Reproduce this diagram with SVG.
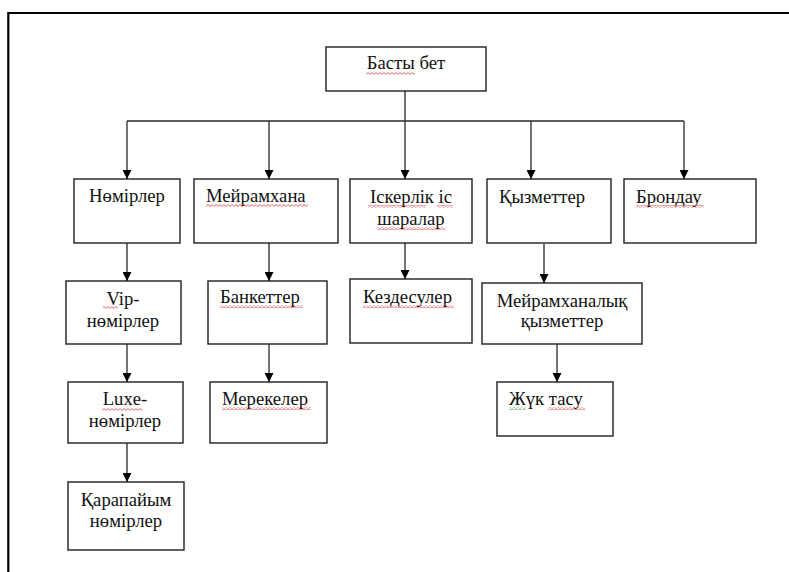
<svg xmlns="http://www.w3.org/2000/svg" width="789" height="572" viewBox="0 0 789 572">
  <defs>
    <style>
      .box { fill: #ffffff; stroke: #1e1e1e; stroke-width: 1.4; }
      .lbl { font-family: "Liberation Serif", "Times New Roman", "DejaVu Serif", serif; font-size: 18.67px; fill: #111111; }
      .mid { text-anchor: middle; }
      .wire { fill: none; stroke: #2a2a2a; stroke-width: 1.3; }
      .frame { fill: none; stroke: #000000; stroke-width: 2.2; }
    </style>
    <marker id="arrow" viewBox="0 0 9 9" refX="9" refY="4.5" markerWidth="9" markerHeight="9" markerUnits="userSpaceOnUse" orient="auto">
      <path d="M0,0 L9,4.5 L0,9 Z" fill="#000000"/>
    </marker>
    <!-- wavy proofing underlines -->
    <pattern id="waveRed" width="4" height="3" patternUnits="userSpaceOnUse">
      <polyline points="0,0.6 2,2.4 4,0.6" fill="none" stroke="#e8363a" stroke-width="0.8"/>
    </pattern>
    <pattern id="waveGreen" width="4" height="3" patternUnits="userSpaceOnUse">
      <polyline points="0,0.6 2,2.4 4,0.6" fill="none" stroke="#3a9a3a" stroke-width="0.8"/>
    </pattern>
  </defs>

  <rect width="789" height="572" fill="#ffffff"/>

  <!-- page frame -->
  <path class="frame" d="M8.3,572 V13 H789"/>

  <!-- connectors -->
  <g id="connectors">
    <path class="wire" d="M405,91 V121"/>
    <path class="wire" d="M127,121 H684"/>
    <path class="wire" d="M127,121 V179" marker-end="url(#arrow)"/>
    <path class="wire" d="M269,121 V179" marker-end="url(#arrow)"/>
    <path class="wire" d="M405,121 V179" marker-end="url(#arrow)"/>
    <path class="wire" d="M531,121 V179" marker-end="url(#arrow)"/>
    <path class="wire" d="M684,121 V179" marker-end="url(#arrow)"/>
    <path class="wire" d="M127,243 V281" marker-end="url(#arrow)"/>
    <path class="wire" d="M127,344 V382" marker-end="url(#arrow)"/>
    <path class="wire" d="M127,443 V482" marker-end="url(#arrow)"/>
    <path class="wire" d="M269,243 V281" marker-end="url(#arrow)"/>
    <path class="wire" d="M269,344 V382" marker-end="url(#arrow)"/>
    <path class="wire" d="M405,243 V279" marker-end="url(#arrow)"/>
    <path class="wire" d="M544,244 V283" marker-end="url(#arrow)"/>
    <path class="wire" d="M557,344 V382" marker-end="url(#arrow)"/>
  </g>

  <g id="home">
    <rect class="box" x="326" y="47" width="160" height="44"/>
    <text class="lbl mid" x="406" y="69">Басты бет</text>
    <rect x="366" y="72" width="49" height="3" fill="url(#waveRed)"/>
  </g>

  <g id="rooms">
    <rect class="box" x="74" y="179" width="106" height="64"/>
    <text class="lbl mid" x="127" y="202">Нөмірлер</text>
  </g>

  <g id="restaurant">
    <rect class="box" x="194" y="179" width="144" height="64"/>
    <text class="lbl" x="206" y="202">Мейрамхана</text>
    <rect x="206" y="204" width="102" height="3" fill="url(#waveRed)"/>
  </g>

  <g id="business-events">
    <rect class="box" x="350" y="179" width="122" height="64"/>
    <text class="lbl mid" x="411" y="203">Іскерлік іс</text>
    <text class="lbl mid" x="411" y="225">шаралар</text>
    <rect x="368" y="205" width="58" height="3" fill="url(#waveRed)"/>
    <rect x="437" y="205" width="16" height="3" fill="url(#waveRed)"/>
    <rect x="377" y="227" width="68" height="3" fill="url(#waveRed)"/>
  </g>

  <g id="services">
    <rect class="box" x="487" y="179" width="124" height="64"/>
    <text class="lbl" x="499" y="203">Қызметтер</text>
  </g>

  <g id="booking">
    <rect class="box" x="624" y="179" width="132" height="64"/>
    <text class="lbl" x="636" y="203">Брондау</text>
    <rect x="636" y="205" width="68" height="3" fill="url(#waveRed)"/>
  </g>

  <g id="vip-rooms">
    <rect class="box" x="66" y="281" width="115" height="63"/>
    <text class="lbl mid" x="123" y="305">Vip-</text>
    <text class="lbl mid" x="123" y="327">нөмірлер</text>
    <rect x="103" y="306" width="15" height="3" fill="url(#waveRed)"/>
  </g>

  <g id="luxe-rooms">
    <rect class="box" x="68" y="382" width="115" height="61"/>
    <text class="lbl mid" x="125" y="405">Luxe-</text>
    <text class="lbl mid" x="125" y="427">нөмірлер</text>
    <rect x="102" y="408" width="40" height="3" fill="url(#waveRed)"/>
  </g>

  <g id="standard-rooms">
    <rect class="box" x="68" y="482" width="116" height="68"/>
    <text class="lbl mid" x="126" y="506">Қарапайым</text>
    <text class="lbl mid" x="126" y="527">нөмірлер</text>
  </g>

  <g id="banquets">
    <rect class="box" x="208" y="281" width="119" height="63"/>
    <text class="lbl" x="220" y="303">Банкеттер</text>
    <rect x="220" y="305" width="83" height="3" fill="url(#waveRed)"/>
  </g>

  <g id="celebrations">
    <rect class="box" x="210" y="382" width="117" height="61"/>
    <text class="lbl" x="222" y="405">Мерекелер</text>
    <rect x="222" y="407" width="89" height="3" fill="url(#waveRed)"/>
  </g>

  <g id="meetings">
    <rect class="box" x="350" y="279" width="122" height="64"/>
    <text class="lbl" x="363" y="303">Кездесулер</text>
    <rect x="363" y="305" width="91" height="3" fill="url(#waveRed)"/>
  </g>

  <g id="restaurant-services">
    <rect class="box" x="482" y="283" width="160" height="61"/>
    <text class="lbl mid" x="562" y="307">Мейрамханалық</text>
    <text class="lbl mid" x="562" y="327">қызметтер</text>
  </g>

  <g id="cargo">
    <rect class="box" x="497" y="382" width="116" height="54"/>
    <text class="lbl" x="509" y="405">Жүк тасу</text>
    <rect x="509" y="407" width="17" height="3" fill="url(#waveGreen)"/>
    <rect x="548" y="407" width="37" height="3" fill="url(#waveRed)"/>
  </g>
</svg>
